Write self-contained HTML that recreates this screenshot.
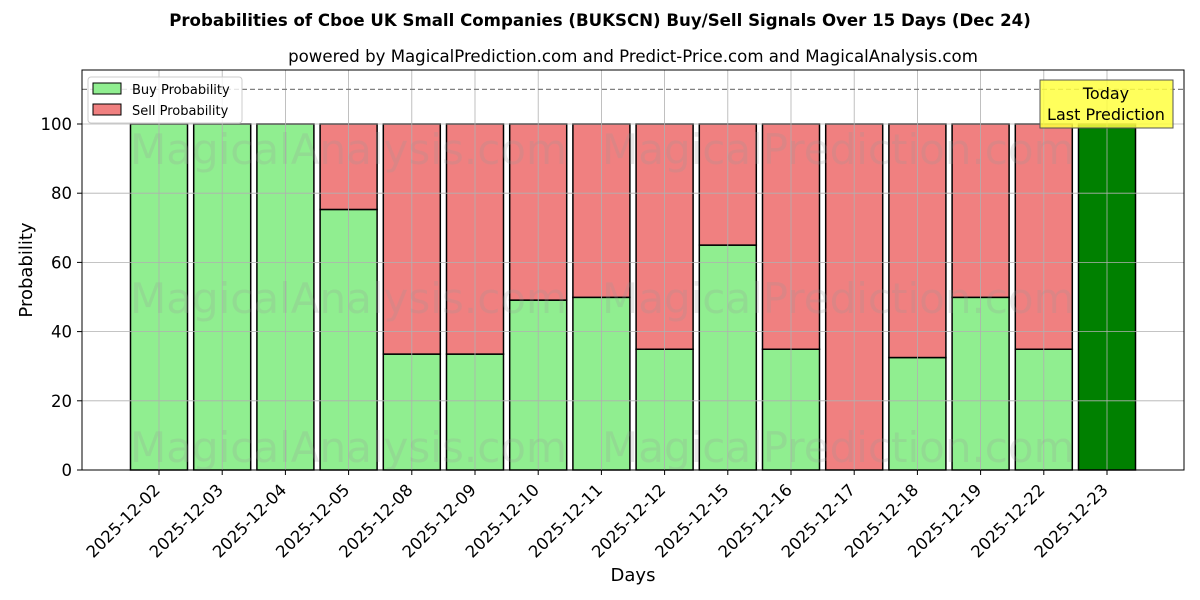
<!DOCTYPE html>
<html><head><meta charset="utf-8"><style>
html,body{margin:0;padding:0;background:#fff;}
svg{display:block;font-family:"DejaVu Sans","Liberation Sans",sans-serif;}
</style></head><body>
<svg id="s" width="1200" height="600" viewBox="0 0 1200 600" xmlns="http://www.w3.org/2000/svg">
<rect width="1200" height="600" fill="#fff"/>
<text x="600" y="26" text-anchor="middle" font-size="16.6" font-weight="bold">Probabilities of Cboe UK Small Companies (BUKSCN) Buy/Sell Signals Over 15 Days (Dec 24)</text>
<text x="633" y="62" text-anchor="middle" font-size="16.6">powered by MagicalPrediction.com and Predict-Price.com and MagicalAnalysis.com</text>
<g id="bars"></g>
<g id="grid" stroke="#b0b0b0" stroke-width="0.8"></g>
<g font-size="42" fill="#999" opacity="0.22" id="wm">
<text x="130" y="164">MagicalAnalysis.com</text><text x="602" y="164">MagicalPrediction.com</text>
<text x="130" y="313">MagicalAnalysis.com</text><text x="602" y="313">MagicalPrediction.com</text>
<text x="130" y="462">MagicalAnalysis.com</text><text x="602" y="462">MagicalPrediction.com</text>
</g>
<line x1="82" y1="89.4" x2="1184" y2="89.4" stroke="#808080" stroke-width="1.2" stroke-dasharray="5,3"/>
<rect x="82" y="70" width="1102" height="400" fill="none" stroke="#000" stroke-width="1"/>
<g id="ticks" font-size="16.5"></g>
<text x="633" y="581" text-anchor="middle" font-size="18">Days</text>
<text transform="translate(32,270) rotate(-90)" text-anchor="middle" font-size="18">Probability</text>
<g>
<rect x="88" y="77" width="154" height="46" rx="3" fill="#fff" fill-opacity="0.8" stroke="#ccc"/>
<rect x="93" y="83" width="28" height="11" fill="#90ee90" stroke="#000"/>
<text x="132" y="94" font-size="13">Buy Probability</text>
<rect x="93" y="104" width="28" height="11" fill="#f08080" stroke="#000"/>
<text x="132" y="115" font-size="13">Sell Probability</text>
</g>
<rect x="1040" y="80" width="133" height="48" fill="#ffff40" fill-opacity="0.85" stroke="#555"/>
<text x="1106" y="99" text-anchor="middle" font-size="16">Today</text>
<text x="1106" y="120" text-anchor="middle" font-size="16">Last Prediction</text>
</svg>
<script>
var buy=[100,100,100,75.3,33.5,33.5,49.1,49.9,34.9,65,34.9,0,32.5,49.9,34.9,100];
var d=["2025-12-02","2025-12-03","2025-12-04","2025-12-05","2025-12-08","2025-12-09","2025-12-10","2025-12-11","2025-12-12","2025-12-15","2025-12-16","2025-12-17","2025-12-18","2025-12-19","2025-12-22","2025-12-23"];
var ns="http://www.w3.org/2000/svg";
function el(p,t,a,txt){var e=document.createElementNS(ns,t);for(var k in a)e.setAttribute(k,a[k]);if(txt!=null)e.textContent=txt;p.appendChild(e);return e;}
var B=document.getElementById("bars"),G=document.getElementById("grid"),T=document.getElementById("ticks");
function Y(v){return 470-v*3.46;}
for(var i=0;i<16;i++){
 var cx=159+i*63.2,x=cx-28.5,w=57;
 var last=i==15;
 el(B,"rect",{x:x,y:Y(buy[i]),width:w,height:470-Y(buy[i]),fill:last?"#008000":"#90ee90",stroke:"#000","stroke-width":1.5});
 if(!last&&buy[i]<100) el(B,"rect",{x:x,y:Y(100),width:w,height:Y(buy[i])-Y(100),fill:"#f08080",stroke:"#000","stroke-width":1.5});
 el(G,"line",{x1:cx,y1:70,x2:cx,y2:470});
 el(T,"line",{x1:cx,y1:470,x2:cx,y2:475,stroke:"#000"});
 el(T,"text",{"text-anchor":"end",transform:"translate("+(cx+2)+",491) rotate(-45)"},d[i]);
}
for(var v=0;v<=100;v+=20){
 var y=Y(v);
 el(G,"line",{x1:82,y1:y,x2:1184,y2:y});
 el(T,"line",{x1:77,y1:y,x2:82,y2:y,stroke:"#000"});
 el(T,"text",{x:72,y:y+6,"text-anchor":"end"},String(v));
}
</script>
</body></html>
